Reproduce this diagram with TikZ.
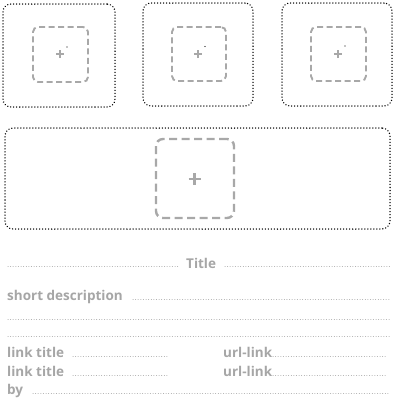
\documentclass[tikz,border=0pt]{standalone}
\usepackage{fontspec}
\setmainfont{Open Sans}
\definecolor{dashgray}{HTML}{A8A8A8}
\definecolor{txtgray}{HTML}{A6A6A6}
\begin{document}
\begin{tikzpicture}[x=1pt,y=-1pt,
  outerbox/.style={draw=black, line width=1.5pt, dash pattern=on 0.01pt off 3pt, line cap=round, rounded corners=8pt, inner sep=0pt},
  innerbox/.style={draw=dashgray, line width=1.9pt, dash pattern=on 6pt off 3.5pt, rounded corners=5pt, inner sep=0pt},
  bigInner/.style={draw=dashgray, line width=2.4pt, dash pattern=on 8pt off 4.5pt, rounded corners=7pt, inner sep=0pt},
  plusline/.style={draw=dashgray, line width=1.2pt},
  bigplus/.style={draw=dashgray, line width=2.2pt},
  speck/.style={fill=black, draw=none, circle, inner sep=0pt, minimum size=1.4pt},
  lbl/.style={text=txtgray, font=\fontsize{13.5}{15}\selectfont\bfseries, anchor=base west, inner sep=0pt},
  dotline/.style={draw=dashgray, line width=1pt, dash pattern=on 0.01pt off 2.6pt, line cap=round}
]
\useasboundingbox (0,0) rectangle (400,413);
% outer boxes
\node[outerbox, minimum width=112pt, minimum height=103pt] (b1) at (59,55.5) {};
\node[outerbox, minimum width=110pt, minimum height=103pt] (b2) at (198,54.5) {};
\node[outerbox, minimum width=110pt, minimum height=103pt] (b3) at (337,54.5) {};
\node[outerbox, minimum width=385pt, minimum height=101pt] (bw) at (197.5,178.5) {};
% inner boxes
\node[innerbox, minimum width=55pt, minimum height=55pt] (i1) at (60.5,54.5) {};
\node[innerbox, minimum width=54pt, minimum height=54pt] (i2) at (199,54) {};
\node[innerbox, minimum width=55pt, minimum height=54pt] (i3) at (338.5,54) {};
\node[bigInner, minimum width=78pt, minimum height=79pt] (iw) at (195,178.5) {};
% plus signs
\foreach \n/\px/\py in {1/60/54, 2/198/54, 3/338/54}{
  \coordinate (p\n) at (\px,\py);
  \draw[plusline] ([xshift=-4pt]p\n) -- ([xshift=4pt]p\n);
  \draw[plusline] ([yshift=-4pt]p\n) -- ([yshift=4pt]p\n);
}
\coordinate (pw) at (194.5,179);
\draw[bigplus] ([xshift=-6pt]pw) -- ([xshift=6pt]pw);
\draw[bigplus] ([yshift=-6pt]pw) -- ([yshift=6pt]pw);
% tiny specks
\node[speck] (s1) at (67,47) {};
\node[speck] (s2) at (205,46.5) {};
\node[speck] (s3) at (345,46) {};
% title row
\node[lbl] (title) at (186,268) {Title};
\coordinate (t1a) at (8,266); \coordinate (t1b) at (178,266);
\coordinate (t2a) at (225,266); \coordinate (t2b) at (391,266);
\draw[dotline] (t1a) -- (t1b);
\draw[dotline] (t2a) -- (t2b);
% short description
\node[lbl] (sd) at (7,300) {short description};
\coordinate (sda) at (133,299); \coordinate (sdb) at (390,299);
\draw[dotline] (sda) -- (sdb);
% blank lines
\coordinate (l3a) at (8,319); \coordinate (l3b) at (390,319);
\draw[dotline] (l3a) -- (l3b);
\coordinate (l4a) at (8,336); \coordinate (l4b) at (390,336);
\draw[dotline] (l4a) -- (l4b);
% link rows
\node[lbl] (lt1) at (7,357) {link title};
\coordinate (lt1a) at (73,356); \coordinate (lt1b) at (167,356);
\draw[dotline] (lt1a) -- (lt1b);
\node[lbl] (ul1) at (223,357) {url-link};
\coordinate (ul1a) at (273,356); \coordinate (ul1b) at (387,356);
\draw[dotline] (ul1a) -- (ul1b);
\node[lbl] (lt2) at (7,376) {link title};
\coordinate (lt2a) at (73,375); \coordinate (lt2b) at (167,375);
\draw[dotline] (lt2a) -- (lt2b);
\node[lbl] (ul2) at (223,376) {url-link};
\coordinate (ul2a) at (273,375); \coordinate (ul2b) at (387,375);
\draw[dotline] (ul2a) -- (ul2b);
% by
\node[lbl] (by) at (7,394) {by};
\coordinate (bya) at (33,393); \coordinate (byb) at (390,393);
\draw[dotline] (bya) -- (byb);
\end{tikzpicture}
\end{document}
